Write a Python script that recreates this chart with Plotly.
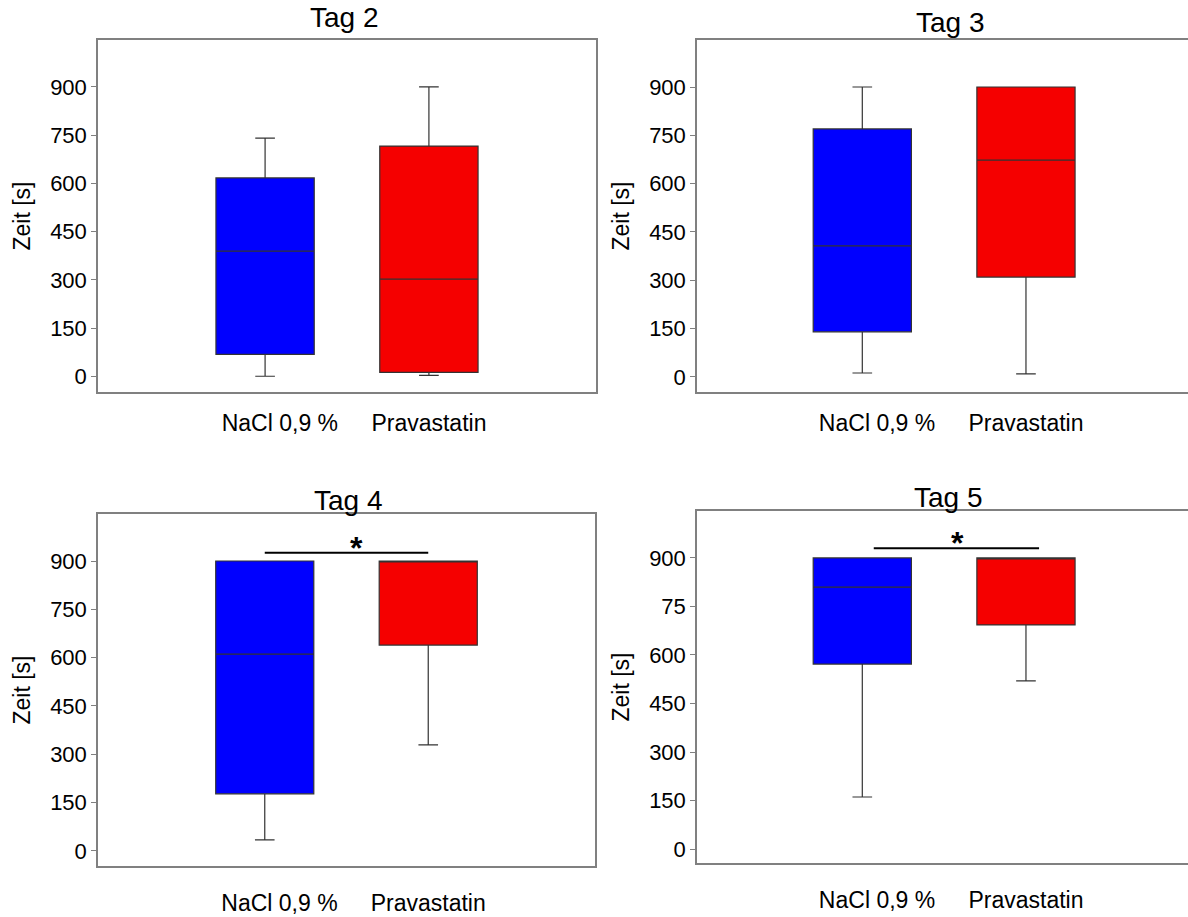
import plotly.graph_objects as go

# ---- data ----
days = ["Tag 2", "Tag 3", "Tag 4", "Tag 5"]
groups = ["NaCl 0,9 %", "Pravastatin"]
colors = ["#0000FF", "#F50000"]

# per day: [NaCl, Pravastatin]
lower_whisker = [[0, 3], [12, 9], [34, 329], [161, 520]]
q1_vals = [[68, 12], [140, 310], [177, 639], [572, 693]]
median_vals = [[389, 302], [407, 673], [611, 900], [810, 900]]
q3_vals = [[617, 716], [770, 900], [900, 900], [900, 900]]
upper_whisker = [[741, 900], [900, 900], [900, 900], [900, 900]]

y_tickvals = [0, 150, 300, 450, 600, 750, 900]
y_ticktext = [
    ["0", "150", "300", "450", "600", "750", "900"],
    ["0", "150", "300", "450", "600", "750", "900"],
    ["0", "150", "300", "450", "600", "750", "900"],
    ["0", "150", "300", "450", "600", "75", "900"],
]
# significance marker (day index, y value)
sig_days = [2, 3]
sig_y = [926, 930]
sig_x0 = [0.0, 0.07]
sig_x1 = [1.0, 1.08]
sig_star_x = [0.56, 0.58]

# ---- layout geometry (pixels) ----
W, H = 1188, 917
px = lambda a, b: [a / W, min(b / W, 1.0)]
py = lambda top, bottom: [1 - bottom / H, 1 - top / H]
domains = [
    (px(98, 596), py(40, 392)),
    (px(697, 1188), py(40, 392)),
    (px(98, 595), py(514, 866)),
    (px(697, 1188), py(511, 863)),
]
xranges = [[-1.02, 2.02], [-1.01, 1.99], [-1.02, 2.02], [-1.01, 1.99]]
yranges = [[-49, 1046], [-47, 1046], [-47, 1046], [-43, 1045]]
label_pos = [0.09, 1.0]
title_xy = [(344, 18), (950, 22), (348, 500), (948, 497)]
label_standoff = [10, 10, 16, 16]

FONT = "Liberation Sans, Arial, sans-serif"
fig = go.Figure()

for d in range(4):
    ax = "" if d == 0 else str(d + 1)
    right_col = d % 2 == 1
    for g in range(2):
        fig.add_trace(go.Box(
            x=[g], q1=[q1_vals[d][g]], median=[median_vals[d][g]], q3=[q3_vals[d][g]],
            lowerfence=[lower_whisker[d][g]], upperfence=[upper_whisker[d][g]],
            fillcolor=colors[g], line=dict(color="#333333", width=1.2),
            whiskerwidth=0.2, width=0.6, boxpoints=False, showlegend=False,
            name=groups[g], xaxis="x" + ax, yaxis="y" + ax, hoverinfo="skip",
        ))
    xd, yd = domains[d]
    fig.layout["xaxis" + ax] = dict(
        domain=xd, anchor="y" + ax, range=xranges[d], tickmode="array",
        tickvals=label_pos, ticktext=groups, ticks="", showgrid=False, zeroline=False,
        showline=True, mirror=True, linecolor="#808080", linewidth=1.5,
        tickfont=dict(size=23, color="black", family=FONT),
        ticklabelstandoff=label_standoff[d],
    )
    fig.layout["yaxis" + ax] = dict(
        domain=yd, anchor="x" + ax, range=yranges[d], tickmode="array",
        tickvals=y_tickvals, ticktext=y_ticktext[d], ticks="outside", ticklen=5,
        tickcolor="#808080", showgrid=False, zeroline=False,
        showline=True, mirror=False if right_col else True,
        linecolor="#808080", linewidth=1.5,
        tickfont=dict(size=22, color="black", family=FONT),
        title=dict(text="Zeit [s]", font=dict(size=23, color="black", family=FONT), standoff=13),
    )
    tx, ty = title_xy[d]
    fig.add_annotation(
        text=days[d], x=tx / W, y=1 - ty / H, xref="paper", yref="paper",
        yanchor="middle", xanchor="center", showarrow=False,
        font=dict(size=28, color="black", family=FONT),
    )

for i, d in enumerate(sig_days):
    ax = "" if d == 0 else str(d + 1)
    fig.add_shape(type="line", xref="x" + ax, yref="y" + ax,
                  x0=sig_x0[i], x1=sig_x1[i], y0=sig_y[i], y1=sig_y[i],
                  line=dict(color="black", width=2))
    fig.add_annotation(text="<b>*</b>", x=sig_star_x[i], y=sig_y[i],
                       xref="x" + ax, yref="y" + ax, showarrow=False, yanchor="bottom",
                       yshift=-15, font=dict(size=32, color="black", family=FONT))

fig.update_layout(
    width=W, height=H, margin=dict(l=0, r=0, t=0, b=0),
    plot_bgcolor="white", paper_bgcolor="white",
    font=dict(family=FONT, color="black"),
)
fig.write_html("out.html", config={"displayModeBar": False},
               post_script="document.body.style.margin='0';document.body.style.overflow='hidden';")
